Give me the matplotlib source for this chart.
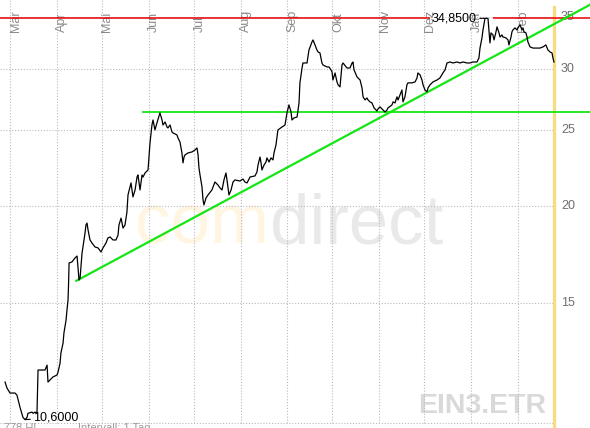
import numpy as np
import matplotlib
matplotlib.use("Agg")
import matplotlib.pyplot as plt
import matplotlib.transforms as mtransforms

plt.rcParams['font.family'] = ['Liberation Sans', 'DejaVu Sans']

# ---- data (calendar days counted from 1 March, closing price in EUR) ----
days = [-3.3, -2.0, 0.0, 3.3, 4.6, 6.6, 8.6, 10.0, 11.3, 11.9,
        14.6, 15.3, 16.6, 17.9, 18.6, 19.9, 23.2, 24.6, 25.2, 26.5,
        28.5, 31.2, 31.9, 33.2, 33.8, 35.2, 35.8, 37.2, 37.8, 38.5,
        38.8, 39.2, 41.1, 43.1, 44.5, 45.1, 45.8, 46.5, 47.1, 47.8,
        48.4, 49.8, 50.4, 51.1, 51.8, 53.1, 54.4, 56.4, 58.4, 60.4,
        61.7, 63.7, 65.0, 66.4, 68.4, 70.3, 71.7, 72.3, 73.7, 75.0,
        76.3, 77.6, 78.3, 79.6, 80.3, 81.6, 83.0, 84.3, 84.9, 86.3,
        87.6, 88.3, 89.6, 91.6, 92.9, 94.2, 94.9, 96.2, 97.5, 99.5,
        100.9, 101.5, 102.9, 104.2, 104.8, 106.2, 107.5, 108.2, 110.8, 111.5,
        112.8, 114.1, 114.8, 115.5, 116.1, 118.1, 120.8, 122.8, 124.1, 124.8,
        125.4, 126.1, 127.4, 128.1, 128.7, 130.1, 131.4, 134.0, 136.0, 138.0,
        139.4, 140.7, 142.0, 143.3, 144.0, 145.3, 146.7, 148.0, 149.3, 152.6,
        154.6, 155.9, 157.3, 159.3, 162.6, 163.9, 164.6, 165.9, 166.6, 167.2,
        168.6, 169.9, 170.5, 171.9, 173.2, 174.5, 175.2, 176.5, 177.2, 177.8,
        180.5, 182.5, 183.8, 185.1, 186.5, 187.1, 188.5, 190.5, 191.8, 192.4,
        193.8, 194.4, 197.1, 198.4, 200.4, 201.1, 202.4, 203.7, 204.4, 205.7,
        207.0, 207.7, 210.4, 211.7, 213.0, 213.7, 214.3, 215.7, 217.0, 217.7,
        219.0, 220.3, 221.0, 223.6, 225.6, 227.0, 227.6, 228.3, 230.3, 232.3,
        233.6, 234.3, 235.6, 236.9, 237.6, 238.9, 240.2, 241.6, 243.5, 244.2,
        245.5, 247.5, 248.9, 250.2, 250.8, 253.5, 254.2, 255.5, 256.8, 257.5,
        258.8, 260.1, 260.8, 262.1, 263.4, 264.1, 266.8, 268.8, 270.1, 270.7,
        272.1, 273.4, 274.1, 275.4, 276.7, 277.4, 278.7, 280.7, 283.4, 285.3,
        287.3, 288.7, 290.0, 292.0, 294.0, 296.6, 298.6, 300.6, 303.3, 305.3,
        307.2, 309.9, 311.2, 311.9, 313.2, 313.9, 315.2, 317.2, 318.5, 319.2,
        320.5, 321.2, 322.5, 323.2, 324.5, 325.2, 326.5, 327.1, 329.1, 330.5,
        331.1, 332.5, 333.1, 333.8, 335.1, 336.4, 337.1, 338.4, 339.8, 340.4,
        341.1, 342.4, 343.1, 343.7, 345.1, 347.1, 349.7, 351.7, 353.7, 355.6,
        357.0, 358.3, 359.7, 360.3, 361.0]

prices = [11.85, 11.64, 11.47, 11.47, 11.40, 11.00, 10.67, 10.60, 10.67, 10.80,
          10.84, 10.80, 10.84, 10.80, 12.28, 12.28, 12.28, 12.46, 11.85, 11.92,
          12.03, 12.10, 12.21, 12.53, 12.92, 13.30, 13.71, 14.24, 14.67, 15.11,
          15.71, 16.87, 16.92, 17.12, 17.22, 16.67, 16.04, 16.13, 16.67, 17.37,
          17.69, 18.44, 18.88, 18.99, 18.60, 18.06, 17.90, 17.69, 17.64, 17.43,
          17.64, 17.90, 18.17, 18.22, 18.06, 18.06, 18.33, 18.88, 19.27, 18.71,
          18.88, 19.62, 20.64, 21.14, 21.39, 20.52, 20.95, 21.77, 21.90, 20.95,
          21.90, 21.77, 22.03, 22.23, 24.08, 25.40, 25.78, 25.03, 25.55, 26.33,
          25.78, 25.40, 25.63, 25.25, 25.18, 25.40, 24.88, 24.81, 24.66, 24.44,
          24.15, 23.38, 22.70, 23.10, 23.24, 23.38, 23.45, 23.59, 23.73, 23.24,
          22.36, 21.90, 21.14, 20.34, 20.04, 20.46, 20.64, 20.95, 21.45, 21.26,
          21.07, 20.95, 21.58, 22.03, 21.58, 20.64, 20.95, 21.45, 21.58, 21.51,
          21.64, 21.45, 21.39, 21.77, 21.84, 22.10, 22.56, 23.10, 22.70, 22.23,
          22.56, 22.76, 23.04, 22.76, 23.04, 22.90, 23.38, 23.94, 24.52, 25.03,
          25.25, 25.40, 26.33, 26.96, 26.40, 25.78, 25.94, 26.01, 27.12, 28.78,
          30.08, 30.53, 30.53, 31.73, 32.50, 32.69, 32.21, 31.73, 31.55, 31.45,
          30.53, 30.35, 30.17, 30.17, 29.91, 29.73, 29.03, 29.64, 28.86, 28.61,
          28.44, 30.35, 30.53, 30.08, 30.08, 30.53, 30.62, 29.91, 29.29, 29.03,
          28.35, 27.61, 27.36, 27.52, 27.36, 27.20, 27.12, 26.72, 26.48, 26.64,
          26.80, 26.56, 26.40, 26.56, 26.72, 26.96, 27.20, 27.12, 27.61, 27.36,
          27.77, 28.18, 27.20, 27.61, 28.61, 28.78, 28.78, 28.86, 29.20, 29.64,
          29.47, 29.03, 28.61, 28.18, 28.02, 28.35, 28.61, 28.86, 29.03, 29.20,
          29.64, 29.91, 30.53, 30.62, 30.53, 30.62, 30.53, 30.62, 30.53, 30.53,
          30.62, 30.62, 30.99, 31.91, 32.89, 33.68, 34.85, 34.85, 32.40, 33.38,
          33.18, 32.69, 33.48, 33.98, 33.38, 32.98, 33.18, 32.98, 32.89, 32.69,
          32.21, 32.98, 33.48, 33.68, 33.88, 33.68, 33.88, 34.18, 33.68, 33.88,
          33.48, 33.38, 32.98, 32.50, 32.02, 31.91, 31.91, 31.91, 32.02, 32.21,
          31.73, 31.55, 31.45, 30.99, 30.62]

month_names = ["Mär", "Apr", "Mai", "Jun", "Jul", "Aug", "Sep", "Okt", "Nov", "Dez", "Jan", "Feb"]
month_start_days = [0, 31, 61, 92, 122, 153, 184, 214, 245, 275, 306, 337]
y_ticks = [15, 20, 25, 30, 35]

trend_days = [44.0, 351.7]        # support trend line anchors
trend_values = [16.0, 33.5]
resistance_start_day = 87.6       # horizontal resistance line
resistance_value = 26.4

symbol = "EIN3.ETR"
footer_left = "228.778 HL"
footer_right = "Intervall: 1 Tag"

# ---- figure ----
W, H, DPI = 590, 428, 100
fig = plt.figure(figsize=(W / DPI, H / DPI), dpi=DPI)
ax = fig.add_axes([0, 0, 1, 1])
ax.set_axis_off()
ax.set_yscale('log')
x_lo, x_hi = -6.64, 384.9
ax.set_xlim(x_lo, x_hi)
ax.set_ylim(10.34, 36.8)

blend_xd = mtransforms.blended_transform_factory(ax.transData, ax.transAxes)
blend_ad = mtransforms.blended_transform_factory(ax.transAxes, ax.transData)

grid_kw = dict(color='#b9b9c6', lw=0.8, linestyle=(0, (1, 1.6)), zorder=1)
last_day = days[-1]

# vertical month grid lines
for d in month_start_days:
    ax.plot([d, d], [1 - 423 / H, 1], transform=blend_xd, **grid_kw)
# horizontal price grid lines
ax.hlines(y_ticks, x_lo, last_day, **grid_kw)
# bottom frame (dotted)
ax.plot([x_lo, last_day + 1], [1 - 423 / H] * 2, transform=blend_xd, **grid_kw)

# watermark
ax.text(135 / W, 1 - 243 / H, "com", transform=ax.transAxes, fontsize=51,
        color='#fff5e0', ha='left', va='baseline', zorder=0)
ax.text(270 / W, 1 - 243 / H, "direct", transform=ax.transAxes, fontsize=51,
        color='#e9e9e9', ha='left', va='baseline', zorder=0)
ax.text(418 / W, 1 - 413 / H, symbol, transform=ax.transAxes, fontsize=20.5,
        fontweight='bold', color='#d9d9d9', ha='left', va='baseline', zorder=0)

# month labels
month_tr = mtransforms.offset_copy(blend_xd, fig=fig, x=5.5, y=0, units='dots')
for d, name in zip(month_start_days, month_names):
    ax.text(d, 1 - 32 / H, name, transform=month_tr, rotation=90,
            ha='center', va='bottom', fontsize=9, color='#8a8a8a', zorder=2)

# y tick labels on the right
for v in y_ticks:
    ax.text(561 / W, v, str(v), transform=blend_ad, ha='left', va='center',
            fontsize=9, color='#6e6e6e', zorder=2)

# last-day marker
ax.axvline(last_day, ymin=0, ymax=1 - 7 / H, color='#f8dc84', lw=2.3, zorder=3)

# max / min
pr = np.array(prices)
imax, imin = int(pr.argmax()), int(pr.argmin())
pmax, pmin = pr[imax], pr[imin]
dmax, dmin = days[imax], days[imin]

ax.hlines(pmax, x_lo, dmax - 36.5, color='#e60000', lw=1.1, zorder=3)
ax.hlines(pmax, dmax + 5.3, x_hi, color='#e60000', lw=1.1, zorder=3)

# trend lines
slope = (np.log(trend_values[1]) - np.log(trend_values[0])) / (trend_days[1] - trend_days[0])
trend_end = np.exp(np.log(trend_values[0]) + slope * (x_hi - trend_days[0]))
ax.plot([trend_days[0], x_hi], [trend_values[0], trend_end], color='#14e614', lw=1.6, zorder=4)
ax.hlines(resistance_value, resistance_start_day, x_hi, color='#14e614', lw=1.3, zorder=4)

# price line
ax.plot(days, prices, color='black', lw=0.9, zorder=5)

fmt = lambda v: f"{v:.4f}".replace('.', ',')
ax.annotate(fmt(pmax), xy=(dmax, pmax), xytext=(-8, 0), textcoords='offset pixels',
            ha='right', va='center', fontsize=9, color='black', zorder=6,
            arrowprops=dict(arrowstyle='-', color='black', lw=0.8, shrinkA=0, shrinkB=0))
ax.annotate(fmt(pmin), xy=(dmin, pmin), xytext=(8, 2), textcoords='offset pixels',
            ha='left', va='center', fontsize=9, color='black', zorder=6,
            arrowprops=dict(arrowstyle='-', color='black', lw=0.8, shrinkA=0, shrinkB=0))

# footer (cut by figure edge, as in the reference)
ax.text(40 / W, 1 - 423 / H, footer_left, transform=ax.transAxes, ha='right', va='top',
        fontsize=8, color='#9a9a9a')
ax.text(78 / W, 1 - 423 / H, footer_right, transform=ax.transAxes, ha='left', va='top',
        fontsize=8, color='#9a9a9a')

fig.savefig("out.png", dpi=DPI)
